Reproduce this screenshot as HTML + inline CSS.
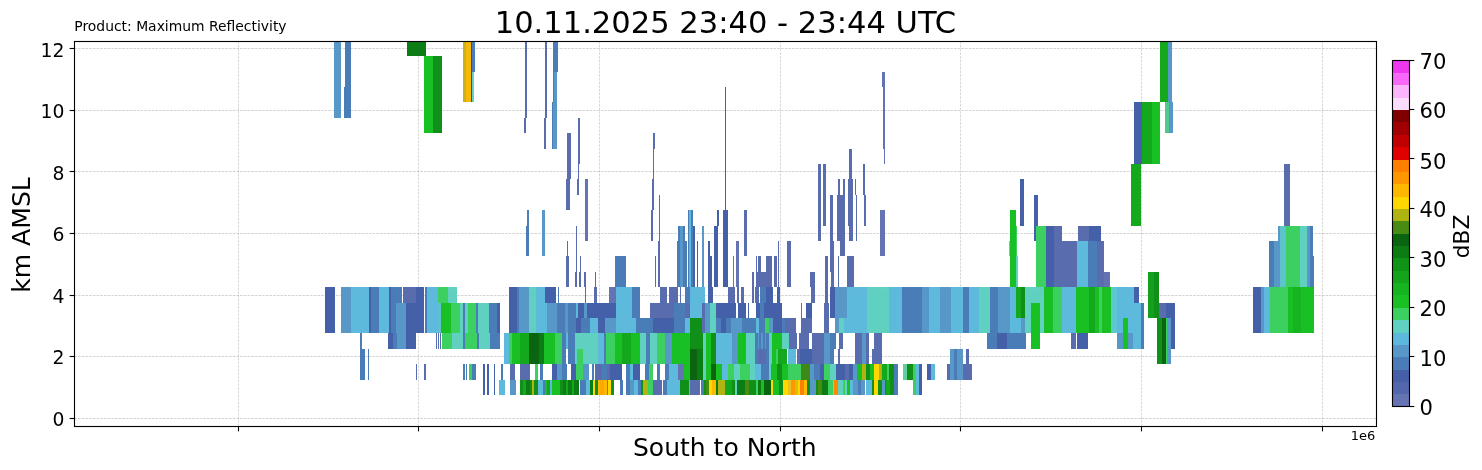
<!DOCTYPE html>
<html lang="en"><head><meta charset="utf-8"><title>Maximum Reflectivity cross section</title>
<style>html,body{margin:0;padding:0;background:#fff;}body{width:1482px;height:470px;overflow:hidden;}svg{display:block;will-change:transform;}text{font-family:"DejaVu Sans","Liberation Sans",sans-serif;fill:#000;}</style></head><body>
<svg width="1482" height="470" viewBox="0 0 1482 470">
<rect x="0" y="0" width="1482" height="470" fill="#ffffff"/>
<g stroke="#808080" stroke-width="0.69" stroke-dasharray="2.57 1.11" fill="none">
<g opacity="0.45">
<line x1="74.5" y1="418.5" x2="1376.5" y2="418.5"/>
<line x1="74.5" y1="356.5" x2="1376.5" y2="356.5"/>
<line x1="74.5" y1="295.5" x2="1376.5" y2="295.5"/>
<line x1="74.5" y1="233.5" x2="1376.5" y2="233.5"/>
<line x1="74.5" y1="171.5" x2="1376.5" y2="171.5"/>
<line x1="74.5" y1="110.5" x2="1376.5" y2="110.5"/>
<line x1="74.5" y1="48.5" x2="1376.5" y2="48.5"/>
</g><g opacity="0.4">
<line x1="238.5" y1="426.5" x2="238.5" y2="41.5"/>
<line x1="418.5" y1="426.5" x2="418.5" y2="41.5"/>
<line x1="599.5" y1="426.5" x2="599.5" y2="41.5"/>
<line x1="780.5" y1="426.5" x2="780.5" y2="41.5"/>
<line x1="960.5" y1="426.5" x2="960.5" y2="41.5"/>
<line x1="1141.5" y1="426.5" x2="1141.5" y2="41.5"/>
<line x1="1322.5" y1="426.5" x2="1322.5" y2="41.5"/>
</g></g>
<g shape-rendering="crispEdges">
<rect x="334.3" y="42" width="6.6" height="75.7" fill="#5898c8"/>
<rect x="345.3" y="42" width="5.8" height="44.9" fill="#4a7cb8"/>
<rect x="344" y="86.9" width="7.1" height="30.8" fill="#4a7cb8"/>
<rect x="407.2" y="42" width="18.5" height="14.1" fill="#0c7c14"/>
<rect x="424" y="56.1" width="9.2" height="77" fill="#18c024"/>
<rect x="433.2" y="56.1" width="9.1" height="77" fill="#109018"/>
<rect x="463.3" y="42" width="2.9" height="60.3" fill="#c8b418"/>
<rect x="466.2" y="42" width="5" height="60.3" fill="#f8b808"/>
<rect x="471" y="42" width="1" height="60.3" fill="#2c5c48"/>
<rect x="471.9" y="71.5" width="2.1" height="30.8" fill="#60d0c0"/>
<rect x="471.6" y="42" width="3" height="29.5" fill="#4a7cb8"/>
<rect x="525" y="42" width="2" height="44.9" fill="#586cae"/>
<rect x="524.5" y="86.9" width="2" height="30.8" fill="#586cae"/>
<rect x="524" y="117.7" width="2" height="15.4" fill="#586cae"/>
<rect x="545" y="42" width="2" height="44.9" fill="#586cae"/>
<rect x="544.5" y="86.9" width="2" height="30.8" fill="#586cae"/>
<rect x="544" y="117.7" width="2" height="30.8" fill="#586cae"/>
<rect x="553.2" y="42" width="4.4" height="29.5" fill="#4a7cb8"/>
<rect x="552.8" y="71.5" width="4.4" height="30.8" fill="#5898c8"/>
<rect x="552.3" y="102.3" width="4.5" height="46.2" fill="#5898c8"/>
<rect x="552.8" y="71.5" width="1.2" height="30.8" fill="#4a7cb8"/>
<rect x="552.3" y="102.3" width="1.1" height="46.2" fill="#4a7cb8"/>
<rect x="567.1" y="133.1" width="4" height="46.2" fill="#586cae"/>
<rect x="566.2" y="179.3" width="3.6" height="30.8" fill="#586cae"/>
<rect x="567.2" y="240.9" width="0.7" height="15.4" fill="#586cae"/>
<rect x="566.4" y="256.3" width="2.5" height="30.8" fill="#586cae"/>
<rect x="578.3" y="117.7" width="1.4" height="46.2" fill="#586cae"/>
<rect x="578" y="163.9" width="0.8" height="30.8" fill="#586cae"/>
<rect x="577" y="179.3" width="1.8" height="15.4" fill="#586cae"/>
<rect x="585" y="179.3" width="2.7" height="61.6" fill="#6474b2"/>
<rect x="652.8" y="133.1" width="2.2" height="15.4" fill="#586cae"/>
<rect x="653.3" y="148.5" width="0.7" height="30.8" fill="#586cae"/>
<rect x="652" y="179.3" width="1.8" height="30.8" fill="#586cae"/>
<rect x="651.1" y="210.1" width="1.7" height="30.8" fill="#586cae"/>
<rect x="659.1" y="194.7" width="0.7" height="46.2" fill="#586cae"/>
<rect x="657.9" y="240.9" width="1.7" height="46.2" fill="#586cae"/>
<rect x="655.2" y="256.3" width="0.7" height="30.8" fill="#586cae"/>
<rect x="725.2" y="86.9" width="0.6" height="123.2" fill="#4460a8"/>
<rect x="882.2" y="71.5" width="2.7" height="15.4" fill="#6474b2"/>
<rect x="883" y="86.9" width="1.9" height="61.6" fill="#6474b2"/>
<rect x="883.9" y="148.5" width="0.8" height="15.4" fill="#6474b2"/>
<rect x="880.2" y="210.1" width="4.6" height="46.2" fill="#6474b2"/>
<rect x="818.2" y="163.9" width="3" height="77" fill="#586cae"/>
<rect x="823.1" y="163.9" width="2.9" height="61.6" fill="#586cae"/>
<rect x="829.6" y="194.7" width="3.4" height="46.2" fill="#586cae"/>
<rect x="830.3" y="240.9" width="3.4" height="30.8" fill="#586cae"/>
<rect x="831.3" y="271.7" width="2.4" height="15.4" fill="#586cae"/>
<rect x="838" y="179.3" width="1.8" height="15.4" fill="#586cae"/>
<rect x="843" y="179.3" width="1.7" height="15.4" fill="#586cae"/>
<rect x="837.2" y="194.7" width="7.9" height="46.2" fill="#586cae"/>
<rect x="840.2" y="240.9" width="4.4" height="15.4" fill="#586cae"/>
<rect x="836.5" y="256.3" width="0.6" height="30.8" fill="#586cae"/>
<rect x="838.2" y="256.3" width="1" height="30.8" fill="#586cae"/>
<rect x="849.1" y="148.5" width="2.8" height="30.8" fill="#586cae"/>
<rect x="848.3" y="179.3" width="4.2" height="15.4" fill="#586cae"/>
<rect x="848.4" y="194.7" width="4.9" height="30.8" fill="#586cae"/>
<rect x="849.2" y="225.5" width="3.4" height="15.4" fill="#586cae"/>
<rect x="847.3" y="256.3" width="6.5" height="30.8" fill="#586cae"/>
<rect x="854.8" y="179.3" width="0.8" height="15.4" fill="#586cae"/>
<rect x="855.9" y="194.7" width="1" height="46.2" fill="#586cae"/>
<rect x="863.1" y="163.9" width="1.9" height="30.8" fill="#586cae"/>
<rect x="864" y="194.7" width="1.9" height="30.8" fill="#586cae"/>
<rect x="1020.3" y="179.3" width="3.8" height="46.2" fill="#4460a8"/>
<rect x="1034.3" y="194.7" width="3.7" height="46.2" fill="#4460a8"/>
<rect x="1159.6" y="42" width="8.5" height="60.3" fill="#14a81c"/>
<rect x="1168.1" y="42" width="4.2" height="60.3" fill="#5898c8"/>
<rect x="1165.2" y="102.3" width="3.7" height="30.8" fill="#50c890"/>
<rect x="1168.9" y="102.3" width="3.8" height="30.8" fill="#5898c8"/>
<rect x="1134.2" y="102.3" width="7.8" height="61.6" fill="#4460a8"/>
<rect x="1142" y="102.3" width="9.8" height="61.6" fill="#14a81c"/>
<rect x="1151.8" y="102.3" width="7.9" height="61.6" fill="#18c024"/>
<rect x="1131.2" y="163.9" width="9.6" height="61.6" fill="#14a81c"/>
<rect x="1283.5" y="163.9" width="6.5" height="61.6" fill="#586cae"/>
<rect x="527.2" y="210.1" width="1.7" height="15.4" fill="#4a7cb8"/>
<rect x="525.9" y="225.5" width="3" height="30.8" fill="#4a7cb8"/>
<rect x="542" y="210.1" width="3.1" height="46.2" fill="#5898c8"/>
<rect x="576" y="225.5" width="0.7" height="46.2" fill="#586cae"/>
<rect x="574.9" y="271.7" width="1.7" height="15.4" fill="#586cae"/>
<rect x="580" y="256.3" width="0.8" height="30.8" fill="#586cae"/>
<rect x="579.1" y="271.7" width="1.7" height="15.4" fill="#586cae"/>
<rect x="584.2" y="271.7" width="1.8" height="15.4" fill="#586cae"/>
<rect x="594.5" y="271.7" width="1.7" height="15.4" fill="#586cae"/>
<rect x="615.2" y="256.3" width="10.7" height="30.8" fill="#4a7cb8"/>
<rect x="677.8" y="225.5" width="6.9" height="15.4" fill="#4a7cb8"/>
<rect x="677" y="240.9" width="9.7" height="46.2" fill="#4a7cb8"/>
<rect x="680.4" y="225.5" width="2.6" height="61.6" fill="#5898c8"/>
<rect x="688" y="210.1" width="4.6" height="77" fill="#4a7cb8"/>
<rect x="689" y="210.1" width="1.6" height="77" fill="#5ebadc"/>
<rect x="693.2" y="225.5" width="1.7" height="61.6" fill="#4460a8"/>
<rect x="697.1" y="240.9" width="0.7" height="46.2" fill="#4460a8"/>
<rect x="702" y="225.5" width="1.7" height="61.6" fill="#5898c8"/>
<rect x="708" y="240.9" width="1.7" height="15.4" fill="#4460a8"/>
<rect x="708" y="256.3" width="3.9" height="30.8" fill="#4460a8"/>
<rect x="714.1" y="225.5" width="3.7" height="61.6" fill="#4460a8"/>
<rect x="717.3" y="210.1" width="1.4" height="15.4" fill="#4460a8"/>
<rect x="722.9" y="210.1" width="5.1" height="77" fill="#4460a8"/>
<rect x="735.7" y="240.9" width="3.1" height="46.2" fill="#6474b2"/>
<rect x="733.2" y="256.3" width="0.7" height="30.8" fill="#6474b2"/>
<rect x="744.2" y="210.1" width="2.6" height="46.2" fill="#586cae"/>
<rect x="752" y="271.7" width="1.7" height="15.4" fill="#586cae"/>
<rect x="756.3" y="256.3" width="0.8" height="30.8" fill="#586cae"/>
<rect x="757.7" y="256.3" width="2.9" height="30.8" fill="#586cae"/>
<rect x="756.3" y="271.7" width="15.8" height="15.4" fill="#586cae"/>
<rect x="765.7" y="256.3" width="6.1" height="30.8" fill="#586cae"/>
<rect x="774.3" y="256.3" width="2.6" height="30.8" fill="#586cae"/>
<rect x="778.1" y="240.9" width="0.7" height="46.2" fill="#586cae"/>
<rect x="787.1" y="240.9" width="3.4" height="46.2" fill="#586cae"/>
<rect x="810.4" y="271.7" width="4.3" height="15.4" fill="#586cae"/>
<rect x="825.4" y="256.3" width="2.4" height="46.2" fill="#586cae"/>
<rect x="1010.1" y="210.1" width="5.8" height="77" fill="#18c024"/>
<rect x="1015.9" y="225.5" width="1.1" height="30.8" fill="#3cd060"/>
<rect x="1016" y="256.3" width="1.6" height="30.8" fill="#60d0c0"/>
<rect x="1009" y="240.9" width="1.4" height="15.4" fill="#60d0c0"/>
<rect x="1036.3" y="225.5" width="9.9" height="61.6" fill="#3cd060"/>
<rect x="1046.2" y="225.5" width="7.6" height="61.6" fill="#4460a8"/>
<rect x="1053.8" y="225.5" width="8" height="61.6" fill="#586cae"/>
<rect x="1061.8" y="240.9" width="15" height="46.2" fill="#586cae"/>
<rect x="1078.2" y="225.5" width="10.5" height="15.4" fill="#586cae"/>
<rect x="1088.7" y="225.5" width="12.3" height="15.4" fill="#4460a8"/>
<rect x="1076.8" y="240.9" width="11.1" height="46.2" fill="#5ebadc"/>
<rect x="1087.9" y="240.9" width="9.3" height="46.2" fill="#4a7cb8"/>
<rect x="1097.2" y="240.9" width="6.5" height="46.2" fill="#586cae"/>
<rect x="1103.7" y="271.7" width="6.3" height="15.4" fill="#6474b2"/>
<rect x="1148.2" y="271.7" width="5.3" height="46.2" fill="#14a01c"/>
<rect x="1153.5" y="271.7" width="5.4" height="46.2" fill="#109018"/>
<rect x="1253.4" y="287.1" width="7.4" height="46.2" fill="#4460a8"/>
<rect x="1260.8" y="287.1" width="2.8" height="46.2" fill="#5898c8"/>
<rect x="1263.6" y="287.1" width="6.6" height="46.2" fill="#5ebadc"/>
<rect x="1270.2" y="287.1" width="17.8" height="46.2" fill="#3cd060"/>
<rect x="1288" y="287.1" width="25.6" height="46.2" fill="#18c024"/>
<rect x="1293" y="287.1" width="8" height="46.2" fill="#16b420"/>
<rect x="1268.5" y="240.9" width="5.1" height="46.2" fill="#4a7cb8"/>
<rect x="1273.6" y="240.9" width="4.8" height="46.2" fill="#5898c8"/>
<rect x="1278.4" y="225.5" width="2" height="61.6" fill="#5898c8"/>
<rect x="1280.4" y="225.5" width="6" height="61.6" fill="#5ec4cc"/>
<rect x="1286.4" y="225.5" width="13.6" height="61.6" fill="#3cd060"/>
<rect x="1300" y="225.5" width="6.8" height="61.6" fill="#60d0c0"/>
<rect x="1306.8" y="225.5" width="2.9" height="61.6" fill="#5898c8"/>
<rect x="1309.7" y="225.5" width="3" height="61.6" fill="#4a7cb8"/>
<rect x="1312.7" y="256.3" width="0.9" height="30.8" fill="#4a7cb8"/>
<rect x="325.2" y="287.1" width="9.7" height="46.2" fill="#4460a8"/>
<rect x="341.1" y="287.1" width="10" height="46.2" fill="#5898c8"/>
<rect x="351.1" y="287.1" width="17.7" height="46.2" fill="#5ebadc"/>
<rect x="368.8" y="287.1" width="2" height="46.2" fill="#4460a8"/>
<rect x="370.8" y="287.1" width="8.2" height="46.2" fill="#4a7cb8"/>
<rect x="379" y="287.1" width="10.2" height="46.2" fill="#5ebadc"/>
<rect x="389.2" y="287.1" width="2" height="46.2" fill="#4460a8"/>
<rect x="391.2" y="287.1" width="10.5" height="15.4" fill="#4a7cb8"/>
<rect x="391.2" y="302.5" width="5.2" height="30.8" fill="#4a7cb8"/>
<rect x="396.4" y="302.5" width="9.6" height="46.2" fill="#5898c8"/>
<rect x="403.2" y="287.1" width="12.5" height="15.4" fill="#586cae"/>
<rect x="415.7" y="287.1" width="8.2" height="15.4" fill="#4460a8"/>
<rect x="406" y="302.5" width="17.9" height="30.8" fill="#4460a8"/>
<rect x="425.3" y="287.1" width="2" height="46.2" fill="#4a7cb8"/>
<rect x="427.3" y="287.1" width="10.9" height="46.2" fill="#5ebadc"/>
<rect x="438.2" y="302.5" width="2.7" height="30.8" fill="#60c0d0"/>
<rect x="438.2" y="287.1" width="9.5" height="15.4" fill="#3cd060"/>
<rect x="447.7" y="287.1" width="9.2" height="15.4" fill="#60d0c0"/>
<rect x="440.9" y="302.5" width="10.2" height="30.8" fill="#18c024"/>
<rect x="451.1" y="302.5" width="8.9" height="30.8" fill="#3cd060"/>
<rect x="460" y="302.5" width="2.7" height="30.8" fill="#60d0c0"/>
<rect x="462.7" y="302.5" width="2.1" height="30.8" fill="#4a7cb8"/>
<rect x="464.8" y="302.5" width="2.7" height="30.8" fill="#60d0c0"/>
<rect x="467.5" y="302.5" width="8.8" height="30.8" fill="#3cd060"/>
<rect x="476.3" y="302.5" width="2.1" height="30.8" fill="#4a7cb8"/>
<rect x="478.4" y="302.5" width="10.9" height="30.8" fill="#60d0c0"/>
<rect x="489.3" y="302.5" width="8.1" height="30.8" fill="#4a7cb8"/>
<rect x="497.4" y="302.5" width="2.5" height="30.8" fill="#4460a8"/>
<rect x="509.1" y="287.1" width="7.9" height="46.2" fill="#4460a8"/>
<rect x="517" y="287.1" width="1.6" height="46.2" fill="#4a7cb8"/>
<rect x="518.6" y="287.1" width="10.2" height="46.2" fill="#5898c8"/>
<rect x="528.8" y="287.1" width="7.5" height="46.2" fill="#60d0c0"/>
<rect x="536.3" y="287.1" width="8.2" height="15.4" fill="#5ebadc"/>
<rect x="536.3" y="302.5" width="10.9" height="30.8" fill="#5ebadc"/>
<rect x="544.5" y="287.1" width="11.6" height="15.4" fill="#4460a8"/>
<rect x="547.2" y="302.5" width="9.5" height="30.8" fill="#5898c8"/>
<rect x="557.8" y="287.1" width="1.1" height="15.4" fill="#4a7cb8"/>
<rect x="556.7" y="302.5" width="8.2" height="30.8" fill="#4a7cb8"/>
<rect x="564.9" y="302.5" width="3.4" height="30.8" fill="#5898c8"/>
<rect x="568.3" y="302.5" width="7.5" height="30.8" fill="#4a7cb8"/>
<rect x="575.8" y="302.5" width="2" height="15.4" fill="#5ebadc"/>
<rect x="577.8" y="302.5" width="38.2" height="15.4" fill="#4460a8"/>
<rect x="584" y="302.5" width="2.7" height="15.4" fill="#5898c8"/>
<rect x="575.8" y="317.9" width="5.4" height="15.4" fill="#4460a8"/>
<rect x="581.2" y="317.9" width="8.9" height="15.4" fill="#4a7cb8"/>
<rect x="590.1" y="317.9" width="8.2" height="15.4" fill="#5ebadc"/>
<rect x="598.3" y="317.9" width="6.8" height="15.4" fill="#4460a8"/>
<rect x="605.1" y="317.9" width="10.9" height="15.4" fill="#5898c8"/>
<rect x="575.5" y="287.1" width="0.6" height="15.4" fill="#586cae"/>
<rect x="584.6" y="287.1" width="1.4" height="15.4" fill="#586cae"/>
<rect x="594.2" y="287.1" width="2.7" height="15.4" fill="#586cae"/>
<rect x="608.5" y="287.1" width="7.5" height="15.4" fill="#6474b2"/>
<rect x="616" y="287.1" width="16.3" height="46.2" fill="#5ebadc"/>
<rect x="632.3" y="287.1" width="7.5" height="30.8" fill="#4a7cb8"/>
<rect x="632.3" y="317.9" width="3.4" height="15.4" fill="#5ebadc"/>
<rect x="635.7" y="317.9" width="17.7" height="15.4" fill="#4a7cb8"/>
<rect x="650" y="302.5" width="39.5" height="15.4" fill="#586cae"/>
<rect x="673.8" y="302.5" width="10.9" height="15.4" fill="#4a7cb8"/>
<rect x="653.4" y="317.9" width="20.4" height="15.4" fill="#4460a8"/>
<rect x="673.8" y="317.9" width="10.9" height="15.4" fill="#4a7cb8"/>
<rect x="684.7" y="317.9" width="5.5" height="15.4" fill="#5ebadc"/>
<rect x="660.2" y="287.1" width="6.8" height="15.4" fill="#586cae"/>
<rect x="669.1" y="287.1" width="7.4" height="15.4" fill="#586cae"/>
<rect x="677" y="287.1" width="1" height="15.4" fill="#586cae"/>
<rect x="679.8" y="287.1" width="1" height="15.4" fill="#586cae"/>
<rect x="684.7" y="287.1" width="5.5" height="15.4" fill="#4a7cb8"/>
<rect x="690.2" y="287.1" width="11.6" height="30.8" fill="#5ebadc"/>
<rect x="690.2" y="317.9" width="12.3" height="15.4" fill="#109018"/>
<rect x="701.8" y="287.1" width="2.7" height="15.4" fill="#5ebadc"/>
<rect x="701.8" y="302.5" width="3.4" height="30.8" fill="#586cae"/>
<rect x="707.9" y="287.1" width="5.5" height="15.4" fill="#4460a8"/>
<rect x="728.4" y="287.1" width="6.1" height="15.4" fill="#586cae"/>
<rect x="737.2" y="287.1" width="1.6" height="15.4" fill="#586cae"/>
<rect x="741.3" y="287.1" width="2.7" height="15.4" fill="#586cae"/>
<rect x="752.2" y="287.1" width="1.3" height="15.4" fill="#586cae"/>
<rect x="754.9" y="287.1" width="4.1" height="15.4" fill="#586cae"/>
<rect x="760.4" y="287.1" width="5.4" height="15.4" fill="#4a7cb8"/>
<rect x="765.8" y="287.1" width="6.8" height="15.4" fill="#4460a8"/>
<rect x="776.7" y="287.1" width="3.4" height="15.4" fill="#4460a8"/>
<rect x="810.7" y="287.1" width="4.1" height="15.4" fill="#586cae"/>
<rect x="823.7" y="287.1" width="0.6" height="15.4" fill="#586cae"/>
<rect x="829.8" y="287.1" width="4.8" height="30.8" fill="#4460a8"/>
<rect x="705.2" y="302.5" width="4.8" height="30.8" fill="#5898c8"/>
<rect x="710" y="302.5" width="6.1" height="30.8" fill="#60d0c0"/>
<rect x="716.1" y="302.5" width="19.7" height="15.4" fill="#4460a8"/>
<rect x="738.3" y="302.5" width="7.7" height="15.4" fill="#4460a8"/>
<rect x="748" y="302.5" width="0.7" height="15.4" fill="#4460a8"/>
<rect x="756.3" y="302.5" width="25.2" height="15.4" fill="#4460a8"/>
<rect x="760.4" y="302.5" width="4" height="15.4" fill="#4a7cb8"/>
<rect x="801.2" y="302.5" width="0.8" height="15.4" fill="#586cae"/>
<rect x="806" y="302.5" width="6.1" height="15.4" fill="#4460a8"/>
<rect x="824.3" y="302.5" width="4.8" height="30.8" fill="#586cae"/>
<rect x="716.1" y="317.9" width="4.8" height="15.4" fill="#4a7cb8"/>
<rect x="720.9" y="317.9" width="5.4" height="15.4" fill="#4460a8"/>
<rect x="726.3" y="317.9" width="4.7" height="15.4" fill="#4a7cb8"/>
<rect x="731" y="317.9" width="11" height="15.4" fill="#5898c8"/>
<rect x="742" y="317.9" width="14.3" height="15.4" fill="#4a7cb8"/>
<rect x="756.3" y="317.9" width="2.7" height="15.4" fill="#5ebadc"/>
<rect x="759" y="317.9" width="6" height="15.4" fill="#4a7cb8"/>
<rect x="765" y="317.9" width="3.5" height="15.4" fill="#3cd060"/>
<rect x="768.5" y="317.9" width="4.1" height="15.4" fill="#5898c8"/>
<rect x="772.6" y="317.9" width="9.5" height="15.4" fill="#4460a8"/>
<rect x="782.1" y="317.9" width="2.8" height="15.4" fill="#4a7cb8"/>
<rect x="784.9" y="317.9" width="11.5" height="15.4" fill="#586cae"/>
<rect x="801.2" y="317.9" width="10.9" height="15.4" fill="#586cae"/>
<rect x="834.6" y="287.1" width="12.2" height="30.8" fill="#5898c8"/>
<rect x="834.6" y="317.9" width="4" height="15.4" fill="#5898c8"/>
<rect x="838.6" y="317.9" width="5.5" height="15.4" fill="#60d0c0"/>
<rect x="844.1" y="317.9" width="2.7" height="15.4" fill="#5ebadc"/>
<rect x="846.8" y="287.1" width="19.7" height="46.2" fill="#5ebadc"/>
<rect x="866.5" y="287.1" width="22.6" height="46.2" fill="#60d0c0"/>
<rect x="889.1" y="287.1" width="12.9" height="46.2" fill="#5ebadc"/>
<rect x="902" y="287.1" width="19.8" height="46.2" fill="#4a7cb8"/>
<rect x="921.8" y="287.1" width="6.8" height="46.2" fill="#5898c8"/>
<rect x="928.6" y="287.1" width="11.5" height="46.2" fill="#5ebadc"/>
<rect x="940.1" y="287.1" width="10.9" height="46.2" fill="#5898c8"/>
<rect x="951" y="287.1" width="11.6" height="46.2" fill="#5ebadc"/>
<rect x="962.6" y="287.1" width="6.1" height="46.2" fill="#4a7cb8"/>
<rect x="968.7" y="287.1" width="10.2" height="46.2" fill="#5ebadc"/>
<rect x="978.9" y="287.1" width="10.9" height="46.2" fill="#60d0c0"/>
<rect x="989.8" y="287.1" width="8.2" height="46.2" fill="#4a7cb8"/>
<rect x="998" y="287.1" width="11.6" height="46.2" fill="#5898c8"/>
<rect x="1009.6" y="287.1" width="6.8" height="46.2" fill="#5ebadc"/>
<rect x="1016.4" y="287.1" width="4.7" height="30.8" fill="#14a81c"/>
<rect x="1021.1" y="287.1" width="3.9" height="30.8" fill="#109018"/>
<rect x="1016.4" y="317.9" width="4.1" height="15.4" fill="#5ebadc"/>
<rect x="1020.5" y="317.9" width="4.5" height="15.4" fill="#5898c8"/>
<rect x="1025" y="287.1" width="5.7" height="46.2" fill="#60d0c0"/>
<rect x="1030.7" y="287.1" width="8.8" height="15.4" fill="#60d0c0"/>
<rect x="1030.7" y="302.5" width="8.8" height="46.2" fill="#18c024"/>
<rect x="1039.5" y="287.1" width="4.8" height="46.2" fill="#60d0c0"/>
<rect x="1044.3" y="287.1" width="8.8" height="46.2" fill="#18c024"/>
<rect x="1053.1" y="287.1" width="8.9" height="46.2" fill="#3cd060"/>
<rect x="1062" y="287.1" width="13.6" height="46.2" fill="#5ebadc"/>
<rect x="1075.6" y="287.1" width="13" height="46.2" fill="#18c024"/>
<rect x="1088.6" y="287.1" width="6.8" height="46.2" fill="#14a81c"/>
<rect x="1095.4" y="287.1" width="3.4" height="46.2" fill="#18c024"/>
<rect x="1098.8" y="287.1" width="3.4" height="46.2" fill="#3cd060"/>
<rect x="1102.2" y="287.1" width="8.9" height="46.2" fill="#18c024"/>
<rect x="1111.1" y="287.1" width="6.1" height="46.2" fill="#5cc8d0"/>
<rect x="1117.2" y="287.1" width="16.3" height="46.2" fill="#5ebadc"/>
<rect x="1133.5" y="287.1" width="5.2" height="15.4" fill="#4460a8"/>
<rect x="1133.5" y="302.5" width="7.5" height="30.8" fill="#5ebadc"/>
<rect x="1141" y="302.5" width="2.5" height="46.2" fill="#4a7cb8"/>
<rect x="1122.7" y="317.9" width="5.4" height="30.8" fill="#18c024"/>
<rect x="1117.3" y="333.3" width="5.4" height="15.4" fill="#5898c8"/>
<rect x="1128.1" y="333.3" width="4.8" height="15.4" fill="#5898c8"/>
<rect x="1132.9" y="333.3" width="8.1" height="15.4" fill="#5ebadc"/>
<rect x="1158.9" y="302.5" width="7.1" height="15.4" fill="#586cae"/>
<rect x="1166" y="302.5" width="9" height="15.4" fill="#4460a8"/>
<rect x="1157.1" y="317.9" width="4.9" height="46.2" fill="#109018"/>
<rect x="1162" y="317.9" width="4.1" height="46.2" fill="#0a6410"/>
<rect x="1166.1" y="317.9" width="1.2" height="46.2" fill="#3cd060"/>
<rect x="1167.3" y="317.9" width="3.6" height="46.2" fill="#5898c8"/>
<rect x="1170.9" y="317.9" width="4.1" height="30.8" fill="#4460a8"/>
<rect x="360.4" y="333.3" width="1.3" height="15.4" fill="#4a7cb8"/>
<rect x="360.4" y="348.7" width="4.1" height="30.8" fill="#4a7cb8"/>
<rect x="368" y="348.7" width="0.8" height="30.8" fill="#4a7cb8"/>
<rect x="388.2" y="333.3" width="4.6" height="15.4" fill="#4460a8"/>
<rect x="392.8" y="333.3" width="3.9" height="15.4" fill="#4a7cb8"/>
<rect x="406.2" y="333.3" width="9.6" height="15.4" fill="#4460a8"/>
<rect x="436.2" y="333.3" width="0.9" height="15.4" fill="#586cae"/>
<rect x="438" y="333.3" width="0.9" height="15.4" fill="#586cae"/>
<rect x="439.8" y="333.3" width="1.3" height="15.4" fill="#586cae"/>
<rect x="442.3" y="333.3" width="9.5" height="15.4" fill="#3cd060"/>
<rect x="451.8" y="333.3" width="11.5" height="15.4" fill="#60d0c0"/>
<rect x="463.3" y="333.3" width="2" height="15.4" fill="#4a7cb8"/>
<rect x="465.3" y="333.3" width="11.5" height="15.4" fill="#3cd060"/>
<rect x="476.8" y="333.3" width="1.8" height="15.4" fill="#4a7cb8"/>
<rect x="478.6" y="333.3" width="11.2" height="15.4" fill="#60d0c0"/>
<rect x="489.8" y="333.3" width="9.8" height="15.4" fill="#4a7cb8"/>
<rect x="416.1" y="364.1" width="0.8" height="15.4" fill="#586cae"/>
<rect x="424.2" y="364.1" width="1.6" height="15.4" fill="#586cae"/>
<rect x="463.3" y="364.1" width="1.5" height="15.4" fill="#4a7cb8"/>
<rect x="465.9" y="364.1" width="0.9" height="15.4" fill="#4a7cb8"/>
<rect x="469.1" y="364.1" width="2.9" height="15.4" fill="#3cd060"/>
<rect x="472" y="364.1" width="3.7" height="15.4" fill="#4a7cb8"/>
<rect x="483.2" y="364.1" width="1.5" height="30.8" fill="#4460a8"/>
<rect x="487" y="364.1" width="1.5" height="30.8" fill="#4460a8"/>
<rect x="494" y="364.1" width="0.8" height="30.8" fill="#4460a8"/>
<rect x="500.5" y="364.1" width="2.1" height="15.4" fill="#4a7cb8"/>
<rect x="499.3" y="379.5" width="5.3" height="15.4" fill="#5ebadc"/>
<rect x="510.3" y="364.1" width="4.3" height="15.4" fill="#586cae"/>
<rect x="510.3" y="379.5" width="5.5" height="15.4" fill="#5898c8"/>
<rect x="519.5" y="364.1" width="10.4" height="15.4" fill="#586cae"/>
<rect x="535.3" y="364.1" width="2.3" height="15.4" fill="#18c024"/>
<rect x="504.2" y="333.3" width="5" height="30.8" fill="#5ebadc"/>
<rect x="509.2" y="333.3" width="3.1" height="30.8" fill="#3cd060"/>
<rect x="512.3" y="333.3" width="7.7" height="30.8" fill="#18c024"/>
<rect x="520" y="333.3" width="9.1" height="30.8" fill="#14a81c"/>
<rect x="529.1" y="333.3" width="10.1" height="30.8" fill="#0a6410"/>
<rect x="539.2" y="333.3" width="4.6" height="30.8" fill="#0c7c14"/>
<rect x="519.5" y="379.5" width="3.5" height="15.4" fill="#109018"/>
<rect x="523" y="379.5" width="3" height="15.4" fill="#14a81c"/>
<rect x="526" y="379.5" width="4" height="15.4" fill="#0c7c14"/>
<rect x="530" y="379.5" width="1.5" height="15.4" fill="#109018"/>
<rect x="531.5" y="379.5" width="2.3" height="15.4" fill="#b0b410"/>
<rect x="533.8" y="379.5" width="3.9" height="15.4" fill="#109018"/>
<rect x="537.7" y="379.5" width="5.3" height="15.4" fill="#5ebadc"/>
<rect x="543" y="379.5" width="2.3" height="15.4" fill="#4a7cb8"/>
<rect x="543.8" y="333.3" width="11.5" height="30.8" fill="#18c024"/>
<rect x="555.3" y="333.3" width="6.9" height="30.8" fill="#3cd060"/>
<rect x="562.2" y="333.3" width="3.8" height="30.8" fill="#4a7cb8"/>
<rect x="566" y="333.3" width="2.3" height="15.4" fill="#5ebadc"/>
<rect x="568.3" y="333.3" width="6.9" height="30.8" fill="#4a7cb8"/>
<rect x="575.2" y="333.3" width="7.6" height="15.4" fill="#60d0c0"/>
<rect x="576.7" y="348.7" width="6.1" height="15.4" fill="#3cd060"/>
<rect x="575.2" y="348.7" width="1.5" height="15.4" fill="#60d0c0"/>
<rect x="582.8" y="333.3" width="15.3" height="30.8" fill="#60d0c0"/>
<rect x="598.1" y="333.3" width="6.2" height="30.8" fill="#5ebadc"/>
<rect x="604.3" y="333.3" width="1.5" height="30.8" fill="#4a7cb8"/>
<rect x="605.8" y="333.3" width="9.2" height="30.8" fill="#3cd060"/>
<rect x="615" y="333.3" width="6.9" height="30.8" fill="#18c024"/>
<rect x="621.9" y="333.3" width="9.2" height="30.8" fill="#14a81c"/>
<rect x="631.1" y="333.3" width="8.4" height="30.8" fill="#18c024"/>
<rect x="639.5" y="333.3" width="6.9" height="30.8" fill="#60d0c0"/>
<rect x="646.4" y="333.3" width="3.8" height="30.8" fill="#4a7cb8"/>
<rect x="650.2" y="333.3" width="6.9" height="30.8" fill="#60d0c0"/>
<rect x="657.1" y="333.3" width="7.7" height="30.8" fill="#3cd060"/>
<rect x="664.8" y="333.3" width="6.9" height="30.8" fill="#5898c8"/>
<rect x="671.7" y="333.3" width="18.3" height="30.8" fill="#18c024"/>
<rect x="690" y="333.3" width="13" height="15.4" fill="#109018"/>
<rect x="690" y="348.7" width="6.9" height="30.8" fill="#0a6410"/>
<rect x="696.9" y="348.7" width="6.1" height="30.8" fill="#0c7c14"/>
<rect x="703" y="333.3" width="3.1" height="46.2" fill="#60d0c0"/>
<rect x="706.1" y="333.3" width="4.6" height="46.2" fill="#18c024"/>
<rect x="710.7" y="333.3" width="5.4" height="30.8" fill="#109018"/>
<rect x="710.7" y="364.1" width="5.4" height="15.4" fill="#0a6410"/>
<rect x="716.1" y="333.3" width="16.2" height="30.8" fill="#5ebadc"/>
<rect x="534.6" y="364.1" width="3.1" height="15.4" fill="#3cd060"/>
<rect x="540" y="364.1" width="3" height="15.4" fill="#4a7cb8"/>
<rect x="552.2" y="364.1" width="4.6" height="15.4" fill="#4460a8"/>
<rect x="556.8" y="364.1" width="5.4" height="15.4" fill="#5898c8"/>
<rect x="562.2" y="364.1" width="4.6" height="15.4" fill="#4a7cb8"/>
<rect x="571" y="364.1" width="4.9" height="15.4" fill="#4460a8"/>
<rect x="575.9" y="364.1" width="6.9" height="15.4" fill="#3cd060"/>
<rect x="582.8" y="364.1" width="6.2" height="15.4" fill="#5898c8"/>
<rect x="592" y="364.1" width="2" height="15.4" fill="#4a7cb8"/>
<rect x="595.1" y="364.1" width="14.5" height="15.4" fill="#586cae"/>
<rect x="602" y="364.1" width="4.6" height="15.4" fill="#4a7cb8"/>
<rect x="609.6" y="364.1" width="12.3" height="15.4" fill="#4460a8"/>
<rect x="626.2" y="364.1" width="3.3" height="15.4" fill="#4a7cb8"/>
<rect x="629.5" y="364.1" width="3.9" height="15.4" fill="#5ebadc"/>
<rect x="633.4" y="364.1" width="6.1" height="15.4" fill="#4460a8"/>
<rect x="644.9" y="364.1" width="3.8" height="15.4" fill="#4a7cb8"/>
<rect x="648.7" y="364.1" width="4.6" height="15.4" fill="#3cd060"/>
<rect x="657.1" y="364.1" width="2.8" height="15.4" fill="#4a7cb8"/>
<rect x="665.2" y="364.1" width="3.4" height="15.4" fill="#4a7cb8"/>
<rect x="668.6" y="364.1" width="9.2" height="15.4" fill="#5ebadc"/>
<rect x="677.8" y="364.1" width="6.1" height="15.4" fill="#6474b2"/>
<rect x="683.9" y="364.1" width="6.1" height="15.4" fill="#18c024"/>
<rect x="716.1" y="364.1" width="4.6" height="15.4" fill="#18c024"/>
<rect x="720.7" y="364.1" width="0.8" height="15.4" fill="#18c024"/>
<rect x="721.5" y="364.1" width="6.9" height="15.4" fill="#5ebadc"/>
<rect x="728.4" y="364.1" width="5.4" height="15.4" fill="#3cd060"/>
<rect x="545.3" y="379.5" width="1.5" height="15.4" fill="#18c024"/>
<rect x="547" y="379.5" width="2.8" height="15.4" fill="#14a81c"/>
<rect x="549.9" y="379.5" width="2.3" height="15.4" fill="#5ebadc"/>
<rect x="552.2" y="379.5" width="7.7" height="15.4" fill="#18c024"/>
<rect x="559.9" y="379.5" width="3.1" height="15.4" fill="#109018"/>
<rect x="563" y="379.5" width="3" height="15.4" fill="#0c7c14"/>
<rect x="566" y="379.5" width="2" height="15.4" fill="#14a81c"/>
<rect x="568" y="379.5" width="4" height="15.4" fill="#0c7c14"/>
<rect x="572" y="379.5" width="2" height="15.4" fill="#14a81c"/>
<rect x="574" y="379.5" width="5" height="15.4" fill="#0c7c14"/>
<rect x="580.2" y="379.5" width="5.7" height="15.4" fill="#4a7cb8"/>
<rect x="585.9" y="379.5" width="3.8" height="15.4" fill="#5ebadc"/>
<rect x="589.7" y="379.5" width="3.1" height="15.4" fill="#0c7c14"/>
<rect x="592.8" y="379.5" width="2.3" height="15.4" fill="#ffd800"/>
<rect x="595.1" y="379.5" width="3" height="15.4" fill="#109018"/>
<rect x="598.1" y="379.5" width="2.3" height="15.4" fill="#ffb800"/>
<rect x="600.4" y="379.5" width="3.9" height="15.4" fill="#ffa800"/>
<rect x="604.3" y="379.5" width="2.3" height="15.4" fill="#ffb800"/>
<rect x="606.6" y="379.5" width="1.5" height="15.4" fill="#18c024"/>
<rect x="608.1" y="379.5" width="3.1" height="15.4" fill="#ffd800"/>
<rect x="611.2" y="379.5" width="2.3" height="15.4" fill="#109018"/>
<rect x="620.4" y="379.5" width="2.3" height="15.4" fill="#4a7cb8"/>
<rect x="626.2" y="379.5" width="3.3" height="15.4" fill="#4a7cb8"/>
<rect x="629.5" y="379.5" width="4.6" height="15.4" fill="#5898c8"/>
<rect x="634.1" y="379.5" width="3.9" height="15.4" fill="#5ebadc"/>
<rect x="638" y="379.5" width="3" height="15.4" fill="#4a7cb8"/>
<rect x="641" y="379.5" width="2.3" height="15.4" fill="#109018"/>
<rect x="643.3" y="379.5" width="4.6" height="15.4" fill="#b0b410"/>
<rect x="647.9" y="379.5" width="5.4" height="15.4" fill="#3cd060"/>
<rect x="653.3" y="379.5" width="8.4" height="15.4" fill="#586cae"/>
<rect x="663.2" y="379.5" width="3.9" height="15.4" fill="#4a7cb8"/>
<rect x="667.1" y="379.5" width="13" height="15.4" fill="#5ebadc"/>
<rect x="680.1" y="379.5" width="8.4" height="15.4" fill="#109018"/>
<rect x="688.5" y="379.5" width="1.5" height="15.4" fill="#5ebadc"/>
<rect x="690" y="379.5" width="10" height="15.4" fill="#586cae"/>
<rect x="701.2" y="379.5" width="2.6" height="15.4" fill="#4a7cb8"/>
<rect x="703.8" y="379.5" width="2.6" height="15.4" fill="#109018"/>
<rect x="706.4" y="379.5" width="2.5" height="15.4" fill="#488c14"/>
<rect x="708.9" y="379.5" width="2.6" height="15.4" fill="#ffd800"/>
<rect x="711.5" y="379.5" width="4.6" height="15.4" fill="#ffb800"/>
<rect x="716.1" y="379.5" width="2" height="15.4" fill="#0c7c14"/>
<rect x="718.1" y="379.5" width="7.2" height="15.4" fill="#b0b410"/>
<rect x="725.3" y="379.5" width="4.7" height="15.4" fill="#18c024"/>
<rect x="732.3" y="333.3" width="5.3" height="30.8" fill="#5898c8"/>
<rect x="737.6" y="333.3" width="8.4" height="30.8" fill="#18c024"/>
<rect x="746" y="333.3" width="8.5" height="30.8" fill="#60d0c0"/>
<rect x="754.5" y="333.3" width="3" height="30.8" fill="#4a7cb8"/>
<rect x="757.5" y="333.3" width="8.5" height="15.4" fill="#5898c8"/>
<rect x="759" y="333.3" width="2" height="15.4" fill="#4a7cb8"/>
<rect x="763" y="333.3" width="1.5" height="15.4" fill="#4a7cb8"/>
<rect x="757.5" y="348.7" width="8.5" height="15.4" fill="#586cae"/>
<rect x="766" y="333.3" width="3" height="30.8" fill="#4a7cb8"/>
<rect x="769" y="333.3" width="3" height="30.8" fill="#60d0c0"/>
<rect x="772" y="333.3" width="10" height="15.4" fill="#18c024"/>
<rect x="782" y="333.3" width="6.9" height="15.4" fill="#60d0c0"/>
<rect x="772" y="348.7" width="3.9" height="15.4" fill="#18c024"/>
<rect x="775.9" y="348.7" width="2.3" height="15.4" fill="#3cd060"/>
<rect x="778.2" y="348.7" width="9.2" height="15.4" fill="#14a81c"/>
<rect x="788.9" y="333.3" width="7.7" height="15.4" fill="#586cae"/>
<rect x="788.2" y="348.7" width="7.6" height="15.4" fill="#5ebadc"/>
<rect x="799" y="333.3" width="0.8" height="15.4" fill="#586cae"/>
<rect x="796.6" y="348.7" width="3.8" height="15.4" fill="#586cae"/>
<rect x="800.4" y="333.3" width="8.4" height="15.4" fill="#586cae"/>
<rect x="800.4" y="348.7" width="11.5" height="15.4" fill="#4460a8"/>
<rect x="811.9" y="333.3" width="12.2" height="30.8" fill="#586cae"/>
<rect x="824.1" y="333.3" width="5.4" height="30.8" fill="#5898c8"/>
<rect x="829.5" y="333.3" width="6.1" height="15.4" fill="#4a7cb8"/>
<rect x="829.5" y="348.7" width="4.6" height="15.4" fill="#4a7cb8"/>
<rect x="838.7" y="333.3" width="4.6" height="15.4" fill="#586cae"/>
<rect x="837.9" y="348.7" width="2.3" height="15.4" fill="#586cae"/>
<rect x="854.5" y="333.3" width="7.2" height="30.8" fill="#586cae"/>
<rect x="861.7" y="333.3" width="4.5" height="30.8" fill="#5898c8"/>
<rect x="866.2" y="333.3" width="3.1" height="30.8" fill="#586cae"/>
<rect x="871.6" y="348.7" width="2.3" height="15.4" fill="#586cae"/>
<rect x="873.9" y="333.3" width="7.7" height="30.8" fill="#586cae"/>
<rect x="720" y="364.1" width="1.5" height="15.4" fill="#18c024"/>
<rect x="733.8" y="364.1" width="6.1" height="15.4" fill="#60d0c0"/>
<rect x="739.9" y="364.1" width="10" height="15.4" fill="#3cd060"/>
<rect x="749.9" y="364.1" width="4.6" height="15.4" fill="#60d0c0"/>
<rect x="754.5" y="364.1" width="6.8" height="15.4" fill="#5ebadc"/>
<rect x="761.3" y="364.1" width="7.7" height="15.4" fill="#4a7cb8"/>
<rect x="769" y="364.1" width="2.3" height="15.4" fill="#60d0c0"/>
<rect x="771.3" y="364.1" width="6.1" height="15.4" fill="#18c024"/>
<rect x="777.4" y="364.1" width="4.6" height="15.4" fill="#109018"/>
<rect x="782" y="364.1" width="6.1" height="15.4" fill="#18c024"/>
<rect x="788.1" y="364.1" width="13.1" height="15.4" fill="#3cd060"/>
<rect x="801.2" y="364.1" width="8.4" height="15.4" fill="#408818"/>
<rect x="809.6" y="364.1" width="4.6" height="15.4" fill="#5898c8"/>
<rect x="814.2" y="364.1" width="5.3" height="15.4" fill="#4a7cb8"/>
<rect x="819.5" y="364.1" width="4.6" height="15.4" fill="#4460a8"/>
<rect x="824.1" y="364.1" width="5.4" height="15.4" fill="#3cd060"/>
<rect x="829.5" y="364.1" width="6.9" height="15.4" fill="#60d0c0"/>
<rect x="836.4" y="364.1" width="16.8" height="15.4" fill="#4460a8"/>
<rect x="845" y="364.1" width="4" height="15.4" fill="#586cae"/>
<rect x="853.2" y="364.1" width="3.9" height="15.4" fill="#5898c8"/>
<rect x="857.1" y="364.1" width="4.6" height="15.4" fill="#18c024"/>
<rect x="861.7" y="364.1" width="4.5" height="15.4" fill="#b0b410"/>
<rect x="866.2" y="364.1" width="3.9" height="15.4" fill="#109018"/>
<rect x="870.1" y="364.1" width="3.8" height="15.4" fill="#18c024"/>
<rect x="873.9" y="364.1" width="4.6" height="15.4" fill="#ffd800"/>
<rect x="878.5" y="364.1" width="3.1" height="15.4" fill="#b0b410"/>
<rect x="881.6" y="364.1" width="5.3" height="15.4" fill="#14a81c"/>
<rect x="886.9" y="364.1" width="1.6" height="15.4" fill="#3cd060"/>
<rect x="888.5" y="364.1" width="5.3" height="15.4" fill="#109018"/>
<rect x="893.8" y="364.1" width="3.8" height="30.8" fill="#4a7cb8"/>
<rect x="903.4" y="364.1" width="4" height="15.4" fill="#60d0a0"/>
<rect x="907.4" y="364.1" width="5.6" height="15.4" fill="#109018"/>
<rect x="913" y="364.1" width="3.1" height="30.8" fill="#3cd060"/>
<rect x="916.1" y="364.1" width="3" height="30.8" fill="#5ebadc"/>
<rect x="919.1" y="364.1" width="2.6" height="30.8" fill="#4460a8"/>
<rect x="720" y="379.5" width="4.6" height="15.4" fill="#b0b410"/>
<rect x="724.6" y="379.5" width="7.7" height="15.4" fill="#14a81c"/>
<rect x="732.3" y="379.5" width="2.2" height="15.4" fill="#109018"/>
<rect x="734.5" y="379.5" width="2.3" height="15.4" fill="#60d0c0"/>
<rect x="736.8" y="379.5" width="8.5" height="15.4" fill="#0c7c14"/>
<rect x="745.3" y="379.5" width="3.8" height="15.4" fill="#488c14"/>
<rect x="749.1" y="379.5" width="6.9" height="15.4" fill="#109018"/>
<rect x="756" y="379.5" width="1.5" height="15.4" fill="#3cd060"/>
<rect x="757.5" y="379.5" width="3.8" height="15.4" fill="#0c7c14"/>
<rect x="761.3" y="379.5" width="3.1" height="15.4" fill="#18c024"/>
<rect x="764.4" y="379.5" width="6.1" height="15.4" fill="#0a6410"/>
<rect x="770.5" y="379.5" width="2.3" height="15.4" fill="#ffd800"/>
<rect x="772.8" y="379.5" width="6.2" height="15.4" fill="#18c024"/>
<rect x="779" y="379.5" width="3.8" height="15.4" fill="#109018"/>
<rect x="782.8" y="379.5" width="5.3" height="15.4" fill="#ffd800"/>
<rect x="788.1" y="379.5" width="3.1" height="15.4" fill="#e8c020"/>
<rect x="791.2" y="379.5" width="3.8" height="15.4" fill="#ff9800"/>
<rect x="795" y="379.5" width="3.1" height="15.4" fill="#d8c010"/>
<rect x="798.1" y="379.5" width="2.3" height="15.4" fill="#ffd800"/>
<rect x="800.4" y="379.5" width="3.8" height="15.4" fill="#ff8000"/>
<rect x="804.2" y="379.5" width="2.8" height="15.4" fill="#ffb800"/>
<rect x="807" y="379.5" width="3" height="15.4" fill="#109018"/>
<rect x="810" y="379.5" width="5.7" height="15.4" fill="#5898c8"/>
<rect x="815.7" y="379.5" width="2.3" height="15.4" fill="#109018"/>
<rect x="818" y="379.5" width="3.8" height="15.4" fill="#488c14"/>
<rect x="821.8" y="379.5" width="6.2" height="15.4" fill="#0c7c14"/>
<rect x="828" y="379.5" width="4.6" height="15.4" fill="#3cd060"/>
<rect x="832.6" y="379.5" width="1.5" height="15.4" fill="#ffb800"/>
<rect x="834.1" y="379.5" width="3.8" height="15.4" fill="#ff8800"/>
<rect x="837.9" y="379.5" width="4.6" height="15.4" fill="#60d0c0"/>
<rect x="842.5" y="379.5" width="2.3" height="15.4" fill="#3cd060"/>
<rect x="844.8" y="379.5" width="2.3" height="15.4" fill="#60d0c0"/>
<rect x="847.1" y="379.5" width="3.1" height="15.4" fill="#18c024"/>
<rect x="850.2" y="379.5" width="3" height="15.4" fill="#5ebadc"/>
<rect x="853.2" y="379.5" width="4.8" height="15.4" fill="#5898c8"/>
<rect x="858" y="379.5" width="3" height="15.4" fill="#4a7cb8"/>
<rect x="861" y="379.5" width="3.7" height="15.4" fill="#5898c8"/>
<rect x="866.2" y="379.5" width="6.2" height="15.4" fill="#5ebadc"/>
<rect x="872.4" y="379.5" width="1.5" height="15.4" fill="#109018"/>
<rect x="873.9" y="379.5" width="3.8" height="15.4" fill="#ffd800"/>
<rect x="877.7" y="379.5" width="3.9" height="15.4" fill="#109018"/>
<rect x="881.6" y="379.5" width="3" height="15.4" fill="#5898c8"/>
<rect x="884.6" y="379.5" width="1.6" height="15.4" fill="#109018"/>
<rect x="886.2" y="379.5" width="3.8" height="15.4" fill="#14a81c"/>
<rect x="890" y="379.5" width="3.8" height="15.4" fill="#109018"/>
<rect x="987.3" y="333.3" width="9.9" height="15.4" fill="#4a7cb8"/>
<rect x="997.2" y="333.3" width="9.7" height="15.4" fill="#4460a8"/>
<rect x="1006.9" y="333.3" width="19" height="15.4" fill="#4a7cb8"/>
<rect x="1071.2" y="333.3" width="4.6" height="15.4" fill="#586cae"/>
<rect x="1077.3" y="333.3" width="10.6" height="15.4" fill="#4460a8"/>
<rect x="950.2" y="348.7" width="4.2" height="30.8" fill="#5898c8"/>
<rect x="954.4" y="348.7" width="2.6" height="30.8" fill="#4a7cb8"/>
<rect x="957" y="348.7" width="5.5" height="30.8" fill="#5898c8"/>
<rect x="966.2" y="348.7" width="2.4" height="15.4" fill="#586cae"/>
<rect x="927.3" y="364.1" width="3.3" height="15.4" fill="#4460a8"/>
<rect x="930.6" y="364.1" width="4.3" height="15.4" fill="#5ebadc"/>
<rect x="947.2" y="364.1" width="3" height="15.4" fill="#586cae"/>
<rect x="962.5" y="364.1" width="9.5" height="15.4" fill="#586cae"/>
</g>
<g stroke="#808080" stroke-width="0.69" stroke-dasharray="2.57 1.11" fill="none">
<g opacity="0.08">
<line x1="74.5" y1="418.5" x2="1376.5" y2="418.5"/>
<line x1="74.5" y1="356.5" x2="1376.5" y2="356.5"/>
<line x1="74.5" y1="295.5" x2="1376.5" y2="295.5"/>
<line x1="74.5" y1="233.5" x2="1376.5" y2="233.5"/>
<line x1="74.5" y1="171.5" x2="1376.5" y2="171.5"/>
<line x1="74.5" y1="110.5" x2="1376.5" y2="110.5"/>
<line x1="74.5" y1="48.5" x2="1376.5" y2="48.5"/>
</g><g opacity="0.06">
<line x1="238.5" y1="426.5" x2="238.5" y2="41.5"/>
<line x1="418.5" y1="426.5" x2="418.5" y2="41.5"/>
<line x1="599.5" y1="426.5" x2="599.5" y2="41.5"/>
<line x1="780.5" y1="426.5" x2="780.5" y2="41.5"/>
<line x1="960.5" y1="426.5" x2="960.5" y2="41.5"/>
<line x1="1141.5" y1="426.5" x2="1141.5" y2="41.5"/>
<line x1="1322.5" y1="426.5" x2="1322.5" y2="41.5"/>
</g></g>
<rect x="74.5" y="41.5" width="1302" height="385" fill="none" stroke="#000" stroke-width="1.11"/>
<g stroke="#000" stroke-width="1.11">
<line x1="69.64" y1="418.5" x2="74.5" y2="418.5"/>
<line x1="69.64" y1="356.5" x2="74.5" y2="356.5"/>
<line x1="69.64" y1="295.5" x2="74.5" y2="295.5"/>
<line x1="69.64" y1="233.5" x2="74.5" y2="233.5"/>
<line x1="69.64" y1="171.5" x2="74.5" y2="171.5"/>
<line x1="69.64" y1="110.5" x2="74.5" y2="110.5"/>
<line x1="69.64" y1="48.5" x2="74.5" y2="48.5"/>
<line x1="238.5" y1="426.5" x2="238.5" y2="431.36"/>
<line x1="418.5" y1="426.5" x2="418.5" y2="431.36"/>
<line x1="599.5" y1="426.5" x2="599.5" y2="431.36"/>
<line x1="780.5" y1="426.5" x2="780.5" y2="431.36"/>
<line x1="960.5" y1="426.5" x2="960.5" y2="431.36"/>
<line x1="1141.5" y1="426.5" x2="1141.5" y2="431.36"/>
<line x1="1322.5" y1="426.5" x2="1322.5" y2="431.36"/>
</g>
<g font-size="18.8" text-anchor="end">
<text x="64.5" y="426.2">0</text>
<text x="64.5" y="364.3">2</text>
<text x="64.5" y="303.3">4</text>
<text x="64.5" y="241">6</text>
<text x="64.5" y="179.55">8</text>
<text x="64.5" y="118.3">10</text>
<text x="64.5" y="56.9">12</text>
</g>
<text x="725.4" y="32.6" font-size="30.56" text-anchor="middle">10.11.2025 23:40 - 23:44 UTC</text>
<text x="74.3" y="31.2" font-size="13.9">Product: Maximum Reflectivity</text>
<text x="724.8" y="455.8" font-size="25" text-anchor="middle">South to North</text>
<text transform="translate(29.6,235.0) rotate(-90)" font-size="25.1" text-anchor="middle">km AMSL</text>
<text x="1375.2" y="440.3" font-size="13.0" text-anchor="end">1e6</text>
<g shape-rendering="crispEdges">
<rect x="1392.5" y="393.443" width="17" height="13.2571" fill="#6474b2"/>
<rect x="1392.5" y="381.086" width="17" height="13.2571" fill="#5368ac"/>
<rect x="1392.5" y="368.729" width="17" height="13.2571" fill="#4560a8"/>
<rect x="1392.5" y="356.371" width="17" height="13.2571" fill="#4a7cb8"/>
<rect x="1392.5" y="344.014" width="17" height="13.2571" fill="#5898c8"/>
<rect x="1392.5" y="331.657" width="17" height="13.2571" fill="#5cb8dc"/>
<rect x="1392.5" y="319.3" width="17" height="13.2571" fill="#60d0c0"/>
<rect x="1392.5" y="306.943" width="17" height="13.2571" fill="#3cd060"/>
<rect x="1392.5" y="294.586" width="17" height="13.2571" fill="#18c024"/>
<rect x="1392.5" y="282.229" width="17" height="13.2571" fill="#16b420"/>
<rect x="1392.5" y="269.871" width="17" height="13.2571" fill="#14a41c"/>
<rect x="1392.5" y="257.514" width="17" height="13.2571" fill="#109418"/>
<rect x="1392.5" y="245.157" width="17" height="13.2571" fill="#0c7c14"/>
<rect x="1392.5" y="232.8" width="17" height="13.2571" fill="#0a6410"/>
<rect x="1392.5" y="220.443" width="17" height="13.2571" fill="#488c14"/>
<rect x="1392.5" y="208.086" width="17" height="13.2571" fill="#b0b410"/>
<rect x="1392.5" y="195.729" width="17" height="13.2571" fill="#ffd800"/>
<rect x="1392.5" y="183.371" width="17" height="13.2571" fill="#ffb800"/>
<rect x="1392.5" y="171.014" width="17" height="13.2571" fill="#ff9800"/>
<rect x="1392.5" y="158.657" width="17" height="13.2571" fill="#ff8000"/>
<rect x="1392.5" y="146.3" width="17" height="13.2571" fill="#e00000"/>
<rect x="1392.5" y="133.943" width="17" height="13.2571" fill="#c00000"/>
<rect x="1392.5" y="121.586" width="17" height="13.2571" fill="#a00000"/>
<rect x="1392.5" y="109.229" width="17" height="13.2571" fill="#800000"/>
<rect x="1392.5" y="96.8714" width="17" height="13.2571" fill="#fcdcfc"/>
<rect x="1392.5" y="84.5143" width="17" height="13.2571" fill="#fcb4fc"/>
<rect x="1392.5" y="72.1571" width="17" height="13.2571" fill="#f868f8"/>
<rect x="1392.5" y="59.8" width="17" height="13.2571" fill="#ee38f0"/>
</g>
<rect x="1392.5" y="60.5" width="17" height="346" fill="none" stroke="#000" stroke-width="1.11"/>
<g stroke="#000" stroke-width="1.11">
<line x1="1409.5" y1="406.5" x2="1414.36" y2="406.5"/>
<line x1="1409.5" y1="356.5" x2="1414.36" y2="356.5"/>
<line x1="1409.5" y1="307.5" x2="1414.36" y2="307.5"/>
<line x1="1409.5" y1="257.5" x2="1414.36" y2="257.5"/>
<line x1="1409.5" y1="208.5" x2="1414.36" y2="208.5"/>
<line x1="1409.5" y1="158.5" x2="1414.36" y2="158.5"/>
<line x1="1409.5" y1="109.5" x2="1414.36" y2="109.5"/>
<line x1="1409.5" y1="60.5" x2="1414.36" y2="60.5"/>
</g>
<g font-size="21.1">
<text x="1419.5" y="415">0</text>
<text x="1419.5" y="365.871">10</text>
<text x="1419.5" y="315.743">20</text>
<text x="1419.5" y="267.414">30</text>
<text x="1419.5" y="217.486">40</text>
<text x="1419.5" y="168.757">50</text>
<text x="1419.5" y="118.029">60</text>
<text x="1419.5" y="68.8">70</text>
</g>
<text transform="translate(1469.3,236.4) rotate(-90)" font-size="21.7" text-anchor="middle">dBZ</text>
</svg></body></html>
